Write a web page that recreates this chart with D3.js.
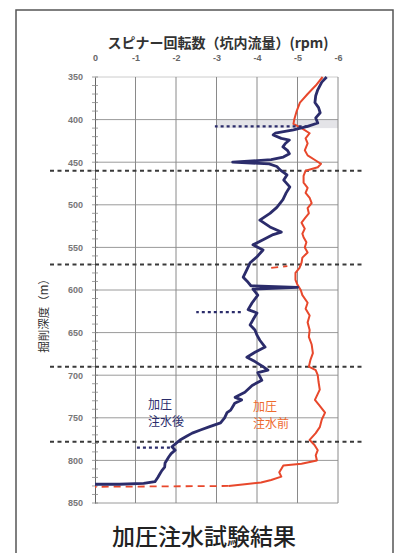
<!DOCTYPE html>
<html><head><meta charset="utf-8">
<script src="https://cdn.jsdelivr.net/npm/d3@7"></script>
<style>
html,body{margin:0;padding:0;background:#fff;}
svg{display:block;font-family:"Noto Sans CJK JP","Noto Sans",sans-serif;}
</style></head>
<body><svg id="c" width="401" height="553"></svg>
<script>
// ---- data ----
const xTicks = [0,-1,-2,-3,-4,-5,-6];
const xTickLabels = ["0","-1","-2","-3","-4","-5","-6"];
const yTicks = [350,400,450,500,550,600,650,700,750,800,850];
const yMinorTicks = d3.range(350, 851, 10);
const boundaryDepths = [460,570,690,778];

// after injection (navy): depth, rpm
const afterDepth = [350,356,365,372,380,386,392,398,404,408,412,416,418,422,424,428,432,436,440,444,447,450,452,455,459,465,471,479,486,494,503,510,518,526,532,535,541,547,553,561,568,576,585,591,595,597,599,606,615,623,627,635,641,647,653,659,667,673,679,684,690,694,697,706,712,720,726,729,733,737,741,744,750,756,760,764,768,772,776,780,784,788,792,796,803,808,812,816,820,825,827,828,828];
const afterRpm = [-5.72,-5.6,-5.5,-5.45,-5.43,-5.52,-5.56,-5.45,-5.5,-5.25,-4.9,-4.45,-4.4,-4.6,-4.8,-4.7,-4.64,-4.75,-4.8,-4.65,-4.35,-3.4,-4.3,-4.49,-4.57,-4.74,-4.66,-4.81,-4.72,-4.64,-4.49,-4.32,-4.07,-4.32,-4.6,-4.4,-4.15,-3.9,-4.15,-4.0,-3.83,-3.75,-3.66,-3.78,-3.85,-5.0,-3.9,-4.02,-3.88,-3.78,-4.0,-3.9,-3.83,-3.95,-4.0,-4.07,-4.2,-3.95,-3.75,-3.95,-4.15,-4.27,-4.02,-4.12,-3.88,-3.7,-3.46,-3.62,-3.45,-3.4,-3.35,-3.26,-3.2,-3.1,-2.85,-2.62,-2.4,-2.25,-2.1,-2.0,-1.9,-1.98,-1.88,-1.82,-1.73,-1.72,-1.65,-1.6,-1.55,-1.48,-1.2,-0.6,0];

// before injection (red): depth, rpm
const beforeDepth = [350,360,370,380,390,400,405,410,416,422,428,436,442,448,452,456,460,466,474,480,486,492,498,504,510,516,521,528,534,538,544,550,556,562,568,574,580,588,594,600,606,615,622,630,638,647,655,664,674,682,690,694,700,708,717,724,729,736,744,752,761,768,776,782,788,794,800,804,806,810,814,819,823,826,828,830];
const beforeRpm = [-5.62,-5.45,-5.25,-5.06,-4.98,-4.92,-4.9,-5.1,-5.3,-5.2,-5.25,-5.18,-5.25,-5.45,-5.58,-5.5,-5.2,-5.15,-5.15,-5.25,-5.2,-5.3,-5.35,-5.25,-5.28,-5.18,-5.1,-5.18,-5.12,-5.15,-5.22,-5.18,-5.25,-5.12,-5.1,-5.05,-4.95,-4.95,-5.0,-5.08,-5.12,-5.25,-5.2,-5.3,-5.25,-5.3,-5.28,-5.35,-5.38,-5.32,-5.28,-5.45,-5.5,-5.52,-5.55,-5.48,-5.43,-5.55,-5.68,-5.6,-5.55,-5.45,-5.3,-5.42,-5.5,-5.45,-5.48,-5.1,-4.65,-4.6,-4.55,-4.6,-4.35,-4.1,-3.7,-3.3];

// dotted fragments: [depth1, rpm1, depth2, rpm2]
const afterDotted = [[408,-5.25,408,-2.96],[626,-3.6,626,-2.5],[785,-1.85,785,-1.0]];
const beforeDotted = [[830,-3.3,831,0],[574,-4.35,572,-4.75]];

const title = "スピナー回転数（坑内流量）(rpm)";
const yLabel = "掘削深度（m）";
const afterLabel = ["加圧","注水後"];
const beforeLabel = ["加圧","注水前"];
const caption = "加圧注水試験結果";

// ---- drawing ----
const svg = d3.select("#c");
const navy = "#2b2c6b", red = "#e8482c", orange = "#ee6a2e";
const x = d3.scaleLinear().domain([0,-6]).range([95,338]);
const y = d3.scaleLinear().domain([350,850]).range([77,503]);

// outer frame
svg.append("rect").attr("x",16).attr("y",10).attr("width",377).attr("height",560)
  .attr("fill","none").attr("stroke","#555").attr("stroke-width",1.5);

// shaded band
svg.append("rect").attr("x",x(-3)).attr("y",y(400)).attr("width",x(-6)-x(-3)).attr("height",y(410)-y(400))
  .attr("fill","#e4e4e8");

// gridlines
svg.append("g").selectAll("line").data(yTicks).join("line")
  .attr("x1",x(0)).attr("x2",x(-6)).attr("y1",d=>y(d)).attr("y2",d=>y(d))
  .attr("stroke",d=>d===350?"#ccc":"#9a9a9a").attr("stroke-width",1);
svg.append("g").selectAll("line").data(xTicks.slice(1)).join("line")
  .attr("x1",d=>x(d)).attr("x2",d=>x(d)).attr("y1",y(350)).attr("y2",y(850))
  .attr("stroke","#8a8a8a").attr("stroke-width",1);

// top axis labels
const topAxis = svg.append("g").attr("transform",`translate(0,${y(350)-19})`)
  .call(d3.axisTop(x).tickValues(xTicks).tickFormat((d,i)=>xTickLabels[i]).tickSize(0).tickPadding(0));
topAxis.select(".domain").remove();
topAxis.selectAll("text").attr("font-size",9).attr("fill","#666").attr("dy","0.35em").attr("font-weight","bold");

// left axis
const leftAxis = svg.append("g").attr("transform",`translate(${x(0)},0)`)
  .call(d3.axisLeft(y).tickValues(yTicks).tickSize(0).tickPadding(12));
leftAxis.select(".domain").attr("stroke","#666");
leftAxis.selectAll("text").attr("font-size",9).attr("fill","#777").attr("font-weight","bold");
svg.append("g").selectAll("line").data(yMinorTicks).join("line")
  .attr("x1",x(0)-3).attr("x2",x(0)+3).attr("y1",d=>y(d)).attr("y2",d=>y(d))
  .attr("stroke","#888").attr("stroke-width",0.8);

// boundary dashed lines
svg.append("g").selectAll("line").data(boundaryDepths).join("line")
  .attr("x1",50).attr("x2",362).attr("y1",d=>y(d)).attr("y2",d=>y(d))
  .attr("stroke","#3a3a3a").attr("stroke-width",2).attr("stroke-dasharray","4,3.5");

const line = d3.line().x(d=>x(d[1])).y(d=>y(d[0]));

// red (before)
svg.append("path").datum(beforeDepth.map((d,i)=>[d,beforeRpm[i]]))
  .attr("d",line).attr("fill","none").attr("stroke",red).attr("stroke-width",2).attr("stroke-linejoin","round");
svg.append("g").selectAll("path").data(beforeDotted).join("path")
  .attr("d",d=>line([[d[0],d[1]],[d[2],d[3]]])).attr("fill","none").attr("stroke",red)
  .attr("stroke-width",1.8).attr("stroke-dasharray","7,5");

// navy (after)
svg.append("path").datum(afterDepth.map((d,i)=>[d,afterRpm[i]]))
  .attr("d",line).attr("fill","none").attr("stroke",navy).attr("stroke-width",2.8).attr("stroke-linejoin","round");
svg.append("g").selectAll("path").data(afterDotted).join("path")
  .attr("d",d=>line([[d[0],d[1]],[d[2],d[3]]])).attr("fill","none").attr("stroke",navy)
  .attr("stroke-width",2.2).attr("stroke-dasharray","3,3");

// texts
svg.append("text").attr("x",218).attr("y",42).attr("text-anchor","middle").attr("dominant-baseline","central")
  .attr("font-size",14).attr("font-weight","bold").attr("fill","#333").text(title);
svg.append("text").attr("transform",`translate(43,313) rotate(-90)`).attr("text-anchor","middle")
  .attr("dominant-baseline","central").attr("font-size",11.5).attr("fill","#333").text(yLabel);
afterLabel.forEach((t,i)=>svg.append("text").attr("x",148).attr("y",409+i*17)
  .attr("font-size",12).attr("fill",navy).text(t));
beforeLabel.forEach((t,i)=>svg.append("text").attr("x",253).attr("y",411+i*17)
  .attr("font-size",12).attr("fill",orange).text(t));
svg.append("text").attr("x",204).attr("y",535).attr("text-anchor","middle").attr("dominant-baseline","central")
  .attr("font-size",23).attr("font-weight",500).attr("fill","#222").text(caption);
</script></body></html>
